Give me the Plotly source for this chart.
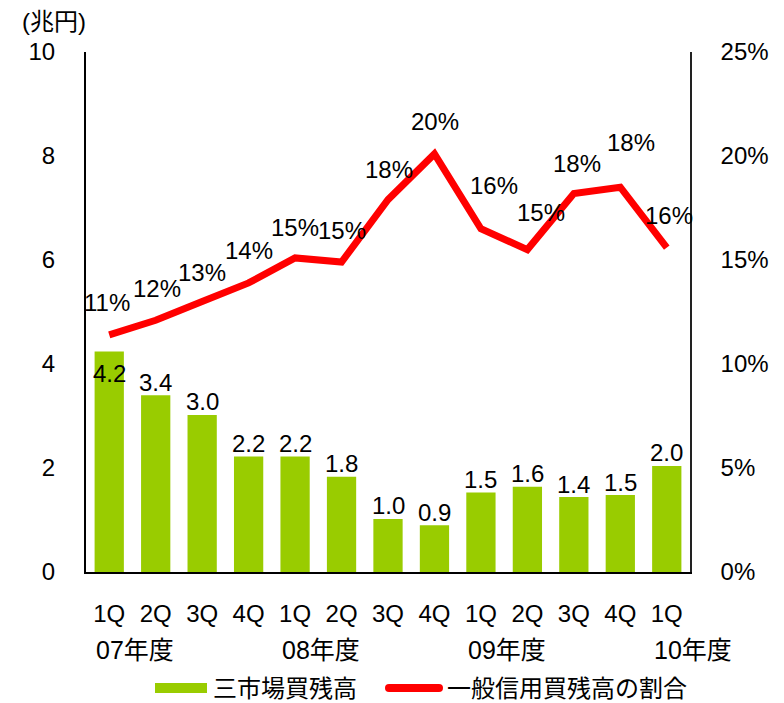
import plotly.graph_objects as go

# ---- data ----
quarters = ["1Q", "2Q", "3Q", "4Q", "1Q", "2Q", "3Q", "4Q", "1Q", "2Q", "3Q", "4Q", "1Q"]
fiscal_years = ["07年度", "08年度", "09年度", "10年度"]
fiscal_year_start_idx = [0, 4, 8, 12]
market_balance = [4.24, 3.40, 3.02, 2.22, 2.22, 1.83, 1.02, 0.90, 1.53, 1.64, 1.44, 1.48, 2.04]  # 兆円
general_ratio = [11.4, 12.1, 13.0, 13.9, 15.1, 14.9, 17.9, 20.1, 16.5, 15.5, 18.2, 18.5, 15.6]  # %
ratio_labels = ["11%", "12%", "13%", "14%", "15%", "15%", "18%", "20%", "16%", "15%", "18%", "18%", "16%"]
bar_name = "三市場買残高"
line_name = "一般信用買残高の割合"
y_left_title = "(兆円)"

# ---- style / layout ----
OFF = 8  # page body margin in the browser
SCR_W, SCR_H = 784, 703
W, H = SCR_W - OFF, SCR_H - OFF
PLOT_X0, PLOT_X1, PLOT_Y0, PLOT_Y1 = 86, 690, 52, 572  # screen pixels of the plot area
L = PLOT_X0 - OFF
R = W - (PLOT_X1 - OFF)
T = PLOT_Y0 - OFF
B = H - (PLOT_Y1 - OFF)
PW, PH = PLOT_X1 - PLOT_X0, PLOT_Y1 - PLOT_Y0
FONT = "Liberation Sans, Arial, Noto Sans CJK JP, sans-serif"
FS = 24
GREEN = "#99CC00"
RED = "#FF0000"

def px_x(x):
    return (x - PLOT_X0) / PW

def px_y(y):
    return (PLOT_Y1 - y) / PH

xs = list(range(len(quarters)))

fig = go.Figure()
fig.add_trace(go.Bar(
    x=xs, y=market_balance, name=bar_name, marker=dict(color=GREEN, line=dict(width=0)),
    width=0.63, yaxis="y", showlegend=False,
))
fig.add_trace(go.Scatter(
    x=xs, y=general_ratio, name=line_name, mode="lines",
    line=dict(color=RED, width=7), yaxis="y2", showlegend=False,
))

annotations = []
# bar value labels
for i, v in enumerate(market_balance):
    shift = -22 if i == 0 else 13
    annotations.append(dict(
        x=i, y=v, xref="x", yref="y", text=f"{v:.1f}", showarrow=False,
        yanchor="middle", xanchor="center", yshift=shift,
        font=dict(family=FONT, size=FS, color="black"),
    ))
# line value labels (offsets in pixels)
label_dx = [-2, 1, 0, 0, 0, 0, 1, 1, 13, 14, 3, 11, 2]
label_dy = [32, 32, 29, 32, 30, 32, 30, 32, 43, 37, 30, 45, 32]
for i, (v, t) in enumerate(zip(general_ratio, ratio_labels)):
    annotations.append(dict(
        x=i, y=v, xref="x", yref="y2", text=t, showarrow=False,
        yanchor="middle", xanchor="center", xshift=label_dx[i], yshift=label_dy[i],
        font=dict(family=FONT, size=FS, color="black"),
    ))
# fiscal year labels
for name, idx in zip(fiscal_years, fiscal_year_start_idx):
    annotations.append(dict(
        x=idx, y=px_y(650), xref="x", yref="paper", text=name, showarrow=False,
        xanchor="left", yanchor="middle", xshift=-15,
        font=dict(family=FONT, size=25, color="black"),
    ))
# left axis unit
annotations.append(dict(
    x=px_x(88), y=px_y(22), xref="paper", yref="paper", text=y_left_title, showarrow=False,
    xanchor="right", yanchor="middle", font=dict(family=FONT, size=FS, color="black"),
))
# manual legend
annotations.append(dict(
    x=px_x(211), y=px_y(688), xref="paper", yref="paper", text=bar_name, showarrow=False,
    xanchor="left", yanchor="middle", font=dict(family=FONT, size=FS, color="black"),
))
annotations.append(dict(
    x=px_x(445), y=px_y(688), xref="paper", yref="paper", text=line_name, showarrow=False,
    xanchor="left", yanchor="middle", font=dict(family=FONT, size=FS, color="black"),
))

shapes = [
    dict(type="rect", xref="paper", yref="paper", x0=px_x(155), x1=px_x(207),
         y0=px_y(693), y1=px_y(683), fillcolor=GREEN, line=dict(width=0)),
    dict(type="line", xref="paper", yref="paper", x0=px_x(389), x1=px_x(439),
         y0=px_y(688), y1=px_y(688), line=dict(color=RED, width=8)),
    dict(type="circle", xref="paper", yref="paper", x0=px_x(385), x1=px_x(393),
         y0=px_y(692), y1=px_y(684), fillcolor=RED, line=dict(width=0)),
    dict(type="circle", xref="paper", yref="paper", x0=px_x(435), x1=px_x(443),
         y0=px_y(692), y1=px_y(684), fillcolor=RED, line=dict(width=0)),
]

fig.update_layout(
    width=W, height=H, margin=dict(l=L, r=R, t=T, b=B),
    paper_bgcolor="white", plot_bgcolor="white",
    font=dict(family=FONT, size=FS, color="black"),
    bargap=0.37,
    xaxis=dict(
        range=[-0.5, len(quarters) - 0.5], tickmode="array", tickvals=xs, ticktext=quarters,
        showgrid=False, zeroline=False, showline=True, linecolor="black", linewidth=2,
        ticks="", ticklabelstandoff=19, tickfont=dict(family=FONT, size=FS, color="black"),
        fixedrange=True,
    ),
    yaxis=dict(
        range=[0, 10], dtick=2, showgrid=False, zeroline=False, showline=True,
        linecolor="black", linewidth=2, ticks="", ticklabelstandoff=24,
        tickfont=dict(family=FONT, size=FS, color="black"),
    ),
    yaxis2=dict(
        range=[0, 25], dtick=5, ticksuffix="%", overlaying="y", side="right",
        showgrid=False, zeroline=False, showline=True, linecolor="#222", linewidth=1.5,
        ticks="", ticklabelstandoff=24, tickfont=dict(family=FONT, size=FS, color="black"),
    ),
    annotations=annotations, shapes=shapes, showlegend=False,
)

fig.write_html("out.html")
